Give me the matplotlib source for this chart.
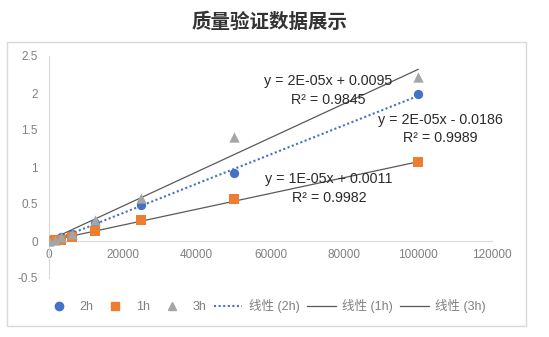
import matplotlib.pyplot as plt
import numpy as np
from matplotlib.patches import Rectangle
from matplotlib.lines import Line2D

plt.rcParams['font.family'] = ['Liberation Sans', 'Noto Sans CJK SC', 'DejaVu Sans']

# data
conc = [0, 1562.5, 3125, 6250, 12500, 25000, 50000, 100000]
y_2h = [0, 0.02, 0.05, 0.10, 0.24, 0.49, 0.92, 1.98]
y_1h = [0, 0.01, 0.02, 0.05, 0.14, 0.29, 0.57, 1.07]
y_3h = [0, 0.02, 0.05, 0.10, 0.28, 0.58, 1.40, 2.22]

# trend lines as printed on the chart (slope from line ends)
trend_2h = (1.98e-05, -0.0186)
trend_1h = (1.07e-05, 0.0011)
trend_3h = (2.31e-05, 0.0095)
eq_2h = 'y = 2E-05x - 0.0186\nR² = 0.9989'
eq_1h = 'y = 1E-05x + 0.0011\nR² = 0.9982'
eq_3h = 'y = 2E-05x + 0.0095\nR² = 0.9845'

xticks = [0, 20000, 40000, 60000, 80000, 100000, 120000]
yticks = [-0.5, 0, 0.5, 1, 1.5, 2, 2.5]
ylabels = ['-0.5', '0', '0.5', '1', '1.5', '2', '2.5']

blue = '#4472C4'
orange = '#ED7D31'
gray = '#A5A5A5'
line_gray = '#595959'
txt = '#2B2B2B'
tick_c = '#808080'

W, H = 549, 337
fig = plt.figure(figsize=(W / 100, H / 100), dpi=100)

# outer chart frame
fig.patches.append(Rectangle((7 / W, 1 - 326 / H), 519 / W, 284 / H, transform=fig.transFigure,
                             fill=False, edgecolor='#D9D9D9', linewidth=1))

fig.text(270 / W, 1 - 22 / H, '质量验证数据展示', ha='center', va='center',
         fontsize=14, fontweight='bold', color='#333333',
         family=['Noto Sans CJK SC', 'DejaVu Sans'])

ax = fig.add_axes([49 / W, 1 - 278 / H, 443 / W, 222 / H])
ax.set_xlim(0, 120000)
ax.set_ylim(-0.5, 2.5)

xs = np.array([0, 100000])
ax.plot(xs, trend_2h[0] * xs + trend_2h[1], color=blue, linestyle=(0, (1, 1.2)), linewidth=1.5, zorder=2)
ax.plot(xs, trend_1h[0] * xs + trend_1h[1], color=line_gray, linewidth=0.9, zorder=2)
ax.plot(xs, trend_3h[0] * xs + trend_3h[1], color=line_gray, linewidth=0.9, zorder=2)

ax.scatter(conc, y_2h, marker='o', s=45, color=blue, zorder=3, linewidths=0)
ax.scatter(conc, y_1h, marker='s', s=55, color=orange, zorder=3, linewidths=0)
ax.scatter(conc, y_3h, marker='^', s=55, color=gray, zorder=3, linewidths=0)

def put_label(xpix, ypix, s):
    x = (xpix - 49) / 443 * 120000
    y = (241.7 - ypix) / 74.0
    ax.text(x, y, s, ha='center', va='center', fontsize=10.3, color=txt,
            linespacing=1.4, zorder=4)

put_label(328, 91, eq_3h)
put_label(440, 130, eq_2h)
put_label(329, 189, eq_1h)

for side in ['top', 'right']:
    ax.spines[side].set_visible(False)
ax.spines['left'].set_color('#D9D9D9')
ax.spines['bottom'].set_color('#D9D9D9')
ax.spines['bottom'].set_position(('data', 0))
ax.set_xticks(xticks)
ax.set_xticklabels([str(v) for v in xticks])
ax.set_yticks(yticks)
ax.set_yticklabels(ylabels)
ax.tick_params(length=0, colors=tick_c, labelsize=8.5)
ax.tick_params(axis='x', pad=6)
ax.tick_params(axis='y', pad=8)

handles = [
    Line2D([], [], marker='o', color=blue, linestyle='none', markersize=6),
    Line2D([], [], marker='s', color=orange, linestyle='none', markersize=6),
    Line2D([], [], marker='^', color=gray, linestyle='none', markersize=6),
    Line2D([], [], color=blue, linestyle=(0, (1, 1.2)), linewidth=1.5),
    Line2D([], [], color=line_gray, linewidth=0.9),
    Line2D([], [], color=line_gray, linewidth=0.9),
]
names = ['2h', '1h', '3h', '线性 (2h)', '线性 (1h)', '线性 (3h)']
leg = fig.legend(handles, names, loc='center', bbox_to_anchor=(265 / W, 1 - 306 / H), ncol=6,
                 frameon=False, handlelength=2.3, handletextpad=0.5,
                 columnspacing=0.6, prop={'family': ['Liberation Sans', 'Noto Sans CJK SC'], 'size': 9})
for t in leg.get_texts():
    t.set_color(tick_c)

fig.savefig('out.png', dpi=100)
